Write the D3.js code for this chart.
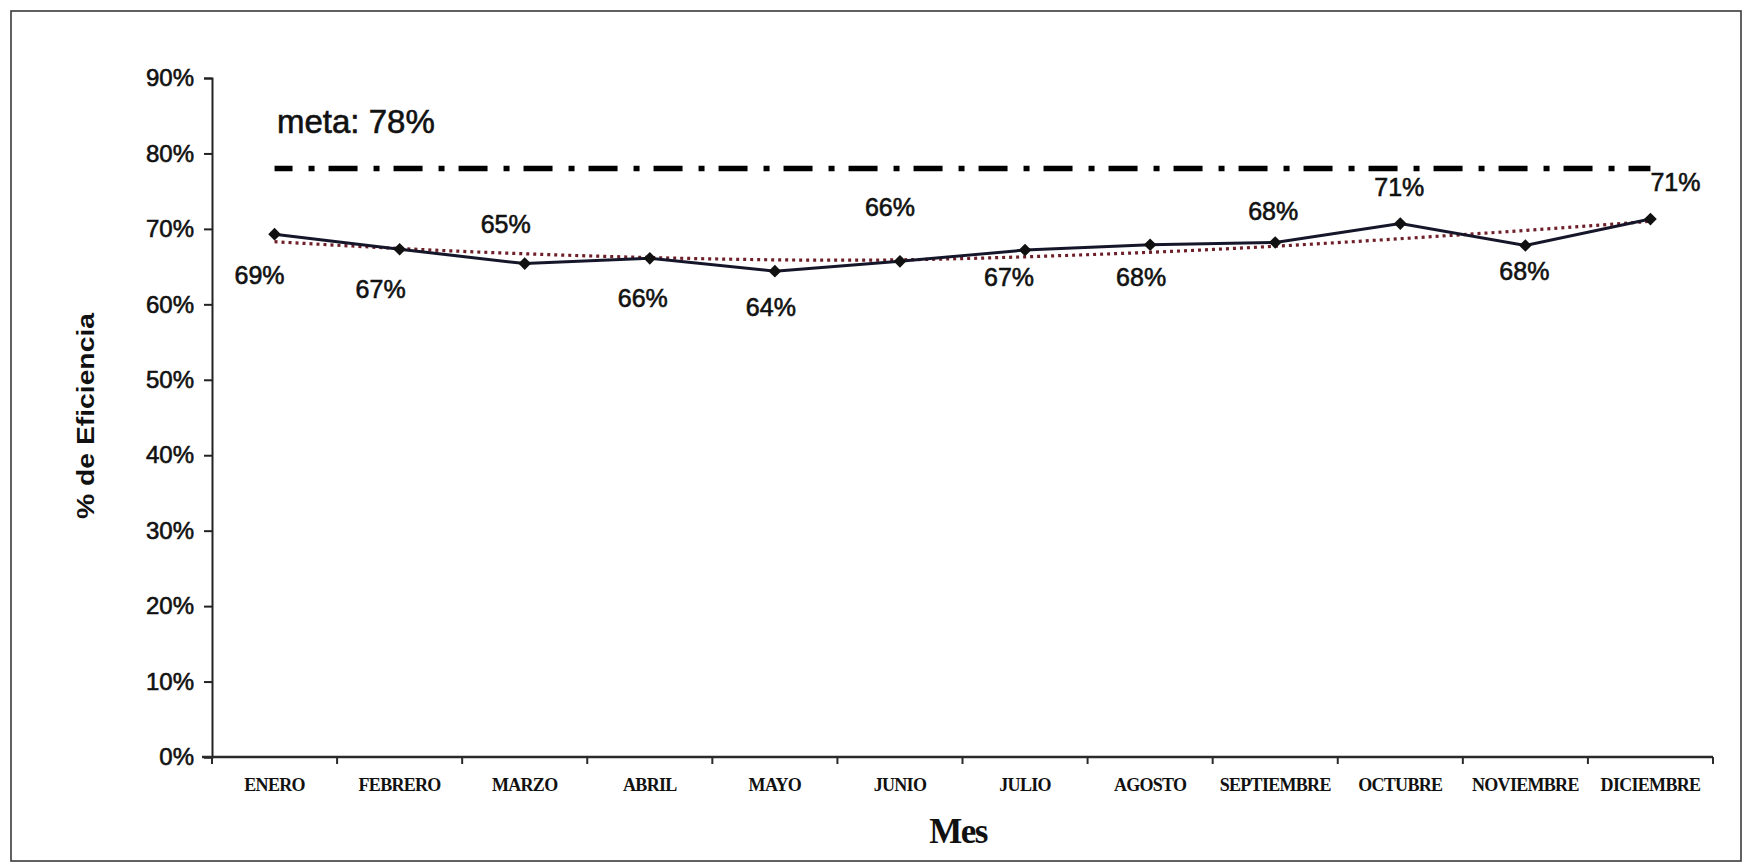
<!DOCTYPE html>
<html>
<head>
<meta charset="utf-8">
<script src="https://cdn.jsdelivr.net/npm/d3@7"></script>
<style>
  html, body { margin: 0; padding: 0; background: #fff; }
  svg { display: block; }
  .sans { font-family: "Liberation Sans", Arial, sans-serif; }
  .serif { font-family: "Liberation Serif", "Times New Roman", serif; }
  .heavy { stroke: #111; stroke-width: 0.6px; paint-order: stroke; }
</style>
</head>
<body>
<svg id="chart" width="1749" height="864"></svg>
<script>
// Monthly efficiency data
const months = ["ENERO", "FEBRERO", "MARZO", "ABRIL", "MAYO", "JUNIO", "JULIO",
                "AGOSTO", "SEPTIEMBRE", "OCTUBRE", "NOVIEMBRE", "DICIEMBRE"];
const efficiency = [0.693, 0.673, 0.654, 0.661, 0.644, 0.657, 0.672,
                    0.679, 0.682, 0.707, 0.678, 0.713];
const trend = [0.683, 0.674, 0.667, 0.662, 0.659, 0.659, 0.663,
               0.669, 0.677, 0.687, 0.698, 0.710];
const target = 0.78;
const yTicks = [0, 0.1, 0.2, 0.3, 0.4, 0.5, 0.6, 0.7, 0.8, 0.9];

// Label placement relative to each point (above or below the line)
const labelOffsets = [[-15, 50], [-19, 49], [-19, -31], [-7, 49], [-4, 45], [-10, -45],
                      [-16, 36], [-9, 41], [-2, -22], [-1, -28], [-1, 35], [25, -28]];

const svg = d3.select("#chart");

// Outer frame
svg.append("rect")
  .attr("x", 11).attr("y", 11).attr("width", 1730).attr("height", 850)
  .attr("fill", "#fff").attr("stroke", "#3a3a3a").attr("stroke-width", 1.6);

const x = d3.scaleBand().domain(months).range([212, 1713]).padding(0);
const y = d3.scaleLinear().domain([0, 0.9]).range([757, 78]);
const cx = m => x(m) + x.bandwidth() / 2;
const pct = d3.format(".0%");

// Y axis
const yAxis = svg.append("g")
  .attr("transform", `translate(${x.range()[0]},0)`)
  .call(d3.axisLeft(y).tickValues(yTicks).tickFormat(pct).tickSize(8).tickPadding(10));
yAxis.select(".domain").attr("stroke", "#222").attr("stroke-width", 2);
yAxis.selectAll(".tick line").attr("stroke", "#222").attr("stroke-width", 2);
yAxis.selectAll(".tick text")
  .attr("class", "sans heavy").attr("font-size", 24).attr("fill", "#111");

// X axis line with boundary ticks
const xAxis = svg.append("g").attr("transform", `translate(0,${y(0)})`);
xAxis.append("line")
  .attr("x1", x.range()[0] - 10).attr("x2", x.range()[1])
  .attr("stroke", "#2a2a2a").attr("stroke-width", 2.6);
const edges = months.map(m => x(m)).concat([x.range()[1]]);
xAxis.selectAll("line.edge").data(edges).join("line")
  .attr("class", "edge")
  .attr("x1", d => d).attr("x2", d => d)
  .attr("y1", 0).attr("y2", 7)
  .attr("stroke", "#2a2a2a").attr("stroke-width", 2);
xAxis.selectAll("text").data(months).join("text")
  .attr("class", "serif")
  .attr("x", d => cx(d)).attr("y", 34)
  .attr("text-anchor", "middle")
  .attr("font-size", 18).attr("font-weight", "bold")
  .attr("letter-spacing", -0.7)
  .attr("fill", "#111")
  .text(d => d);

// Axis titles
svg.append("text")
  .attr("class", "serif")
  .attr("x", 958).attr("y", 843)
  .attr("text-anchor", "middle")
  .attr("font-size", 35).attr("font-weight", "bold")
  .attr("letter-spacing", -1.5)
  .attr("fill", "#111")
  .text("Mes");

svg.append("text")
  .attr("class", "sans")
  .attr("transform", "translate(94,416) rotate(-90)")
  .attr("text-anchor", "middle")
  .attr("font-size", 23).attr("font-weight", "bold")
  .attr("textLength", 206).attr("lengthAdjust", "spacingAndGlyphs")
  .attr("fill", "#111")
  .text("% de Eficiencia");

// Target line
svg.append("line")
  .attr("x1", cx(months[0])).attr("x2", cx(months[months.length - 1]))
  .attr("y1", y(target)).attr("y2", y(target))
  .attr("stroke", "#000").attr("stroke-width", 5.5)
  .attr("stroke-dasharray", "29,16,6,14")
  .attr("stroke-dashoffset", 11);

svg.append("text")
  .attr("class", "sans heavy")
  .attr("x", 277).attr("y", 133)
  .attr("font-size", 33)
  .attr("fill", "#111")
  .text("meta: " + pct(target));

// Trend line (dotted)
const trendLine = d3.line()
  .x((d, i) => cx(months[i]))
  .y(d => y(d))
  .curve(d3.curveNatural);
svg.append("path")
  .datum(trend)
  .attr("d", trendLine)
  .attr("fill", "none")
  .attr("stroke", "#6e1f28").attr("stroke-width", 3.2)
  .attr("stroke-dasharray", "3,4");

// Efficiency line
const effLine = d3.line()
  .x((d, i) => cx(months[i]))
  .y(d => y(d));
svg.append("path")
  .datum(efficiency)
  .attr("d", effLine)
  .attr("fill", "none")
  .attr("stroke", "#16162a").attr("stroke-width", 3);

// Diamond markers
const diamond = d3.symbol().type(d3.symbolSquare).size(80);
svg.selectAll("path.marker").data(efficiency).join("path")
  .attr("class", "marker")
  .attr("d", diamond)
  .attr("transform", (d, i) => `translate(${cx(months[i])},${y(d)}) rotate(45)`)
  .attr("fill", "#111");

// Value labels
svg.selectAll("text.value").data(efficiency).join("text")
  .attr("class", "value sans heavy")
  .attr("x", (d, i) => cx(months[i]) + labelOffsets[i][0])
  .attr("y", (d, i) => y(d) + labelOffsets[i][1])
  .attr("text-anchor", "middle")
  .attr("font-size", 25)
  .attr("fill", "#111")
  .text(d => pct(d));
</script>
</body>
</html>
